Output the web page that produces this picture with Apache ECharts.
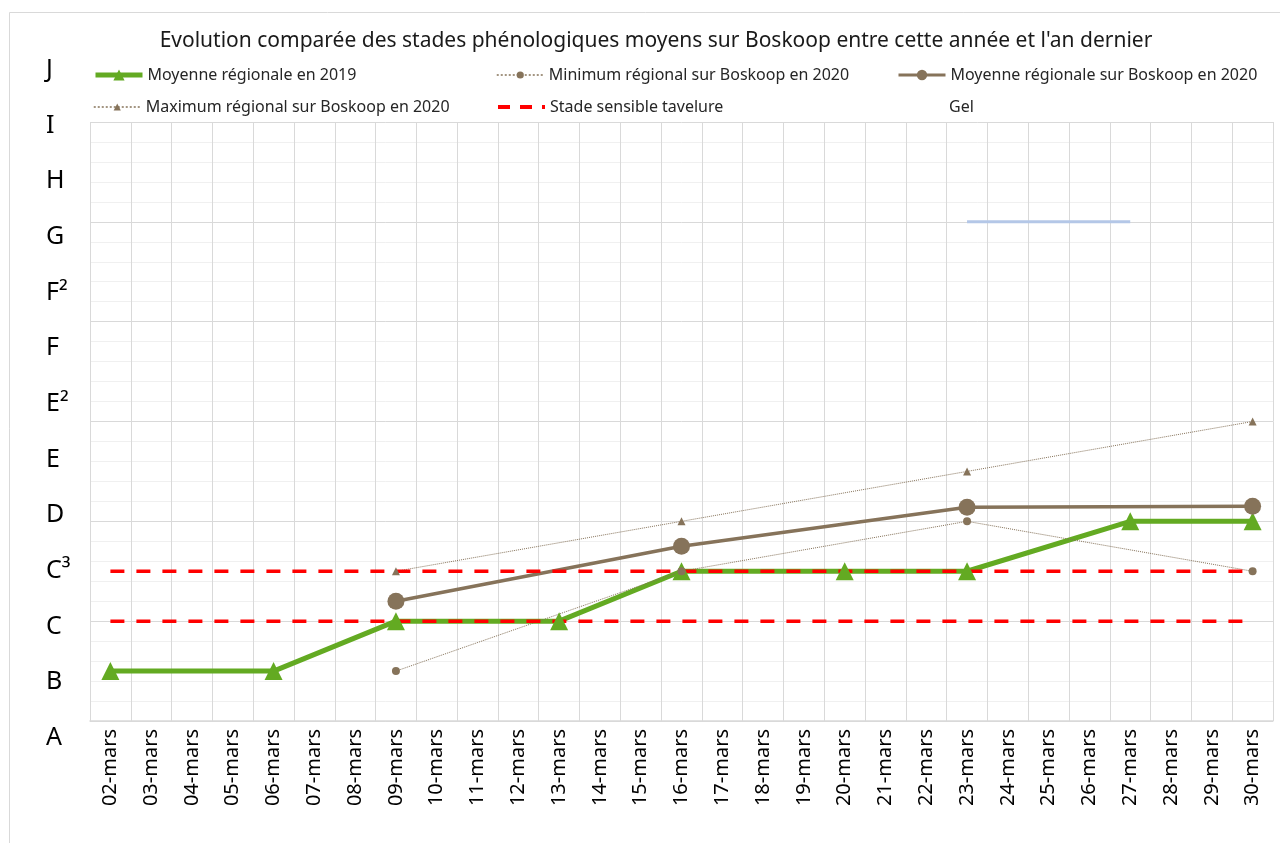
<!DOCTYPE html>
<html>
<head>
<meta charset="utf-8">
<script src="https://cdn.jsdelivr.net/npm/echarts@6/dist/echarts.min.js"></script>
<style>
  html, body { margin: 0; padding: 0; background: #fff; }
  #chart { width: 1280px; height: 843px; }
</style>
</head>
<body>
<div id="chart"></div>
<script>
// jours de mars (axe x)
const dates = ['02-mars', '03-mars', '04-mars', '05-mars', '06-mars', '07-mars', '08-mars',
  '09-mars', '10-mars', '11-mars', '12-mars', '13-mars', '14-mars', '15-mars', '16-mars',
  '17-mars', '18-mars', '19-mars', '20-mars', '21-mars', '22-mars', '23-mars', '24-mars',
  '25-mars', '26-mars', '27-mars', '28-mars', '29-mars', '30-mars'];
// stades phénologiques (étiquettes de gauche)
const stades = ['A', 'B', 'C', 'C³', 'D', 'E', 'E²', 'F', 'F²', 'G', 'H', 'I', 'J'];

// moyenne 2019
const moy2019Dates = ['02-mars', '06-mars', '09-mars', '13-mars', '16-mars', '20-mars', '23-mars', '27-mars', '30-mars'];
const moy2019 = [0.5, 0.5, 1, 1, 1.5, 1.5, 1.5, 2, 2];

// relevés 2020 (hebdo)
const dates2020 = ['09-mars', '16-mars', '23-mars', '30-mars'];
const min2020 = [0.5, 1.5, 2, 1.5];
const moy2020 = [1.2, 1.75, 2.14, 2.15];
const max2020 = [1.5, 2, 2.5, 3];

// stade sensible tavelure
const tavelureDates = ['02-mars', '30-mars'];
const tavelureBas = [1, 1];
const tavelureHaut = [1.5, 1.5];

// gel
const gelDates = ['23-mars', '27-mars'];
const gel = [5, 5];

const FONT = 'Noto Sans';
const BROWN = '#86735a';
const GREEN = '#63aa22';
const RED = '#ff0000';

function pairs(xs, ys) {
  return xs.map((x, i) => [x, ys[i]]);
}

// une légende par entrée, pour les placer comme dans Excel
function legendAt(item, left, top, h) {
  return {
    data: [item],
    left: left,
    top: top,
    padding: 0,
    itemWidth: 47,
    itemHeight: h,
    selectedMode: false,
    textStyle: { fontFamily: FONT, fontSize: 16, color: '#262626' }
  };
}

const chart = echarts.init(document.getElementById('chart'));

const option = {
  animation: false,
  backgroundColor: '#fff',
  graphic: [{
    type: 'rect',
    shape: { x: 9.5, y: 12.5, width: 1400, height: 1000 },
    style: { fill: 'none', stroke: '#d9d9d9', lineWidth: 1 },
    silent: true
  }],
  title: {
    text: "Evolution comparée des stades phénologiques moyens sur Boskoop entre cette année et l'an dernier",
    left: 651,
    textAlign: 'center',
    top: 26,
    textStyle: { fontFamily: FONT, fontSize: 21, fontWeight: 'normal', color: '#1a1a1a' }
  },
  legend: [
    legendAt({ name: 'Moyenne régionale en 2019', lineStyle: { color: GREEN, width: 5 } }, 93, 67, 14),
    legendAt({ name: 'Minimum régional sur Boskoop en 2020', lineStyle: { color: BROWN, width: 1.5, type: [2, 2] } }, 496, 67, 9),
    legendAt({ name: 'Moyenne régionale sur Boskoop en 2020', lineStyle: { color: BROWN, width: 3 } }, 897, 67, 13),
    legendAt({ name: 'Maximum régional sur Boskoop en 2020', lineStyle: { color: BROWN, width: 1.5, type: [2, 2] } }, 93, 99, 9),
    legendAt({ name: 'Stade sensible tavelure', lineStyle: { color: RED, width: 4, type: [12, 10] }, itemStyle: { opacity: 0 } }, 496, 99, 14),
    legendAt({ name: 'Gel', icon: 'none' }, 897, 99, 14)
  ],
  grid: [
    { left: 90, right: 7, top: 122, bottom: 122 },
    { left: 90, right: 7, top: 70, bottom: 105 }
  ],
  xAxis: [
    {
      type: 'category',
      gridIndex: 0,
      data: dates,
      boundaryGap: true,
      axisLine: { lineStyle: { color: '#d9d9d9', width: 1.5 } },
      axisTick: { show: false },
      axisLabel: {
        interval: 0,
        rotate: 90,
        margin: 8,
        fontFamily: FONT,
        fontSize: 20,
        color: '#000'
      },
      splitLine: { show: true, interval: 0, lineStyle: { color: '#d9d9d9' } }
    },
    { type: 'value', gridIndex: 1, show: false }
  ],
  yAxis: [
    {
      type: 'value',
      gridIndex: 0,
      min: 0,
      max: 6,
      interval: 1,
      axisLine: { show: false },
      axisTick: { show: false },
      axisLabel: { show: false },
      splitLine: { lineStyle: { color: '#d9d9d9' } },
      minorTick: { show: false, splitNumber: 5 },
      minorSplitLine: { show: true, lineStyle: { color: '#f0f0f0' } }
    },
    {
      type: 'category',
      gridIndex: 1,
      data: stades,
      boundaryGap: false,
      axisLine: { show: false },
      axisTick: { show: false },
      splitLine: { show: false },
      axisLabel: {
        interval: 0,
        align: 'left',
        margin: 44,
        fontFamily: FONT,
        fontSize: 25,
        color: '#000'
      }
    }
  ],
  series: [
    {
      name: 'Moyenne régionale en 2019',
      type: 'line',
      data: pairs(moy2019Dates, moy2019),
      symbol: 'triangle',
      symbolSize: 18,
      itemStyle: { color: GREEN },
      lineStyle: { color: GREEN, width: 5 }
    },
    {
      name: 'Minimum régional sur Boskoop en 2020',
      type: 'line',
      data: pairs(dates2020, min2020),
      symbol: 'circle',
      symbolSize: 8,
      itemStyle: { color: BROWN },
      lineStyle: { color: BROWN, width: 1, type: 'dotted' }
    },
    {
      name: 'Moyenne régionale sur Boskoop en 2020',
      type: 'line',
      data: pairs(dates2020, moy2020),
      symbol: 'circle',
      symbolSize: 17,
      itemStyle: { color: BROWN },
      lineStyle: { color: BROWN, width: 3.5 }
    },
    {
      name: 'Maximum régional sur Boskoop en 2020',
      type: 'line',
      data: pairs(dates2020, max2020),
      symbol: 'triangle',
      symbolSize: 8,
      itemStyle: { color: BROWN },
      lineStyle: { color: BROWN, width: 1, type: 'dotted' }
    },
    {
      name: 'Stade sensible tavelure',
      type: 'line',
      data: pairs(tavelureDates, tavelureBas),
      symbol: 'none',
      itemStyle: { color: RED },
      lineStyle: { color: RED, width: 3.5, type: [14, 12] }
    },
    {
      name: 'Stade sensible tavelure',
      type: 'line',
      data: pairs(tavelureDates, tavelureHaut),
      symbol: 'none',
      itemStyle: { color: RED },
      lineStyle: { color: RED, width: 3.5, type: [14, 12] }
    },
    {
      name: 'Gel',
      type: 'line',
      data: pairs(gelDates, gel),
      symbol: 'none',
      itemStyle: { color: '#b4c7e7' },
      lineStyle: { color: '#b4c7e7', width: 3 }
    }
  ]
};

chart.setOption(option);
</script>
</body>
</html>
